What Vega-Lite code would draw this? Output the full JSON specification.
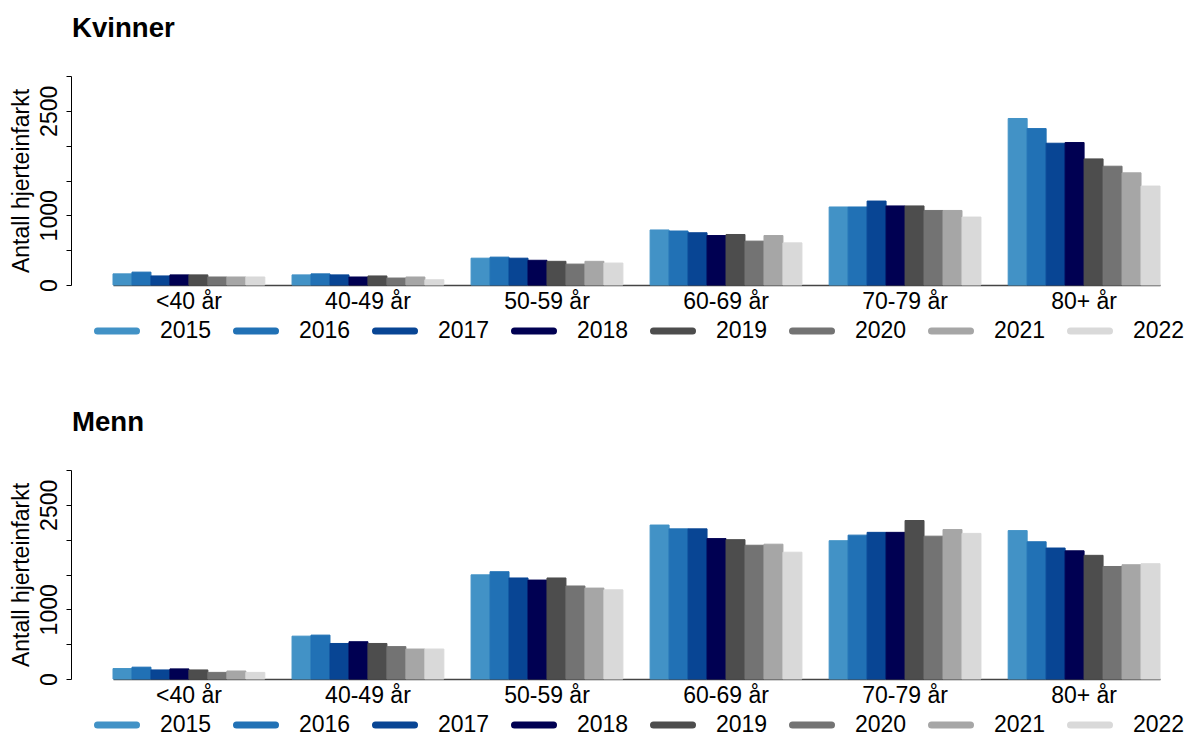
{
  "$schema": "https://vega.github.io/schema/vega-lite/v6.json",
  "padding": {"left": 10, "top": 14, "right": 0, "bottom": 0},
  "background": "white",
  "config": {
    "view": {"stroke": null},
    "font": "Liberation Sans",
    "title": {"anchor": "start", "frame": "group", "dx": -41, "fontSize": 27.6, "fontWeight": "bold", "offset": 33, "color": "black"},
    "axisX": {"title": null, "labelAngle": 0, "ticks": false, "labelPadding": 5, "labelFontSize": 23, "labelColor": "black", "domainColor": "#444", "domainWidth": 1.5, "grid": false},
    "axisY": {"values": [0, 500, 1000, 1500, 2000, 2500, 3000], "format": "d", "labelExpr": "datum.value == 0 || datum.value == 1000 || datum.value == 2500 ? datum.label : ''", "labelAngle": -90, "labelAlign": "center", "labelBaseline": "bottom", "labelPadding": 5, "labelFontSize": 23, "labelColor": "black", "labelOverlap": false, "labelFlush": false, "labelBound": false, "tickSize": 5, "tickColor": "black", "domainColor": "black", "offset": 42, "grid": false, "titleFontSize": 23, "titleFontWeight": "normal", "titleColor": "black", "titlePadding": 5},
    "legend": {"orient": "none", "legendX": -19, "legendY": 232, "direction": "horizontal", "columns": 8, "symbolType": "stroke", "symbolSize": 1521, "symbolStrokeWidth": 7, "labelFontSize": 23, "labelColor": "black", "labelOffset": 20, "columnPadding": 10, "title": null}
  },
  "datasets": {
    "d": [
      {"kjonn": "Kvinner", "alder": "<40 år", "aar": "2015", "antall": 160},
      {"kjonn": "Kvinner", "alder": "<40 år", "aar": "2016", "antall": 185},
      {"kjonn": "Kvinner", "alder": "<40 år", "aar": "2017", "antall": 130},
      {"kjonn": "Kvinner", "alder": "<40 år", "aar": "2018", "antall": 145},
      {"kjonn": "Kvinner", "alder": "<40 år", "aar": "2019", "antall": 145},
      {"kjonn": "Kvinner", "alder": "<40 år", "aar": "2020", "antall": 115},
      {"kjonn": "Kvinner", "alder": "<40 år", "aar": "2021", "antall": 115},
      {"kjonn": "Kvinner", "alder": "<40 år", "aar": "2022", "antall": 115},
      {"kjonn": "Kvinner", "alder": "40-49 år", "aar": "2015", "antall": 145},
      {"kjonn": "Kvinner", "alder": "40-49 år", "aar": "2016", "antall": 160},
      {"kjonn": "Kvinner", "alder": "40-49 år", "aar": "2017", "antall": 145},
      {"kjonn": "Kvinner", "alder": "40-49 år", "aar": "2018", "antall": 115},
      {"kjonn": "Kvinner", "alder": "40-49 år", "aar": "2019", "antall": 130},
      {"kjonn": "Kvinner", "alder": "40-49 år", "aar": "2020", "antall": 100},
      {"kjonn": "Kvinner", "alder": "40-49 år", "aar": "2021", "antall": 115},
      {"kjonn": "Kvinner", "alder": "40-49 år", "aar": "2022", "antall": 75},
      {"kjonn": "Kvinner", "alder": "50-59 år", "aar": "2015", "antall": 385},
      {"kjonn": "Kvinner", "alder": "50-59 år", "aar": "2016", "antall": 400},
      {"kjonn": "Kvinner", "alder": "50-59 år", "aar": "2017", "antall": 385},
      {"kjonn": "Kvinner", "alder": "50-59 år", "aar": "2018", "antall": 355},
      {"kjonn": "Kvinner", "alder": "50-59 år", "aar": "2019", "antall": 340},
      {"kjonn": "Kvinner", "alder": "50-59 år", "aar": "2020", "antall": 300},
      {"kjonn": "Kvinner", "alder": "50-59 år", "aar": "2021", "antall": 340},
      {"kjonn": "Kvinner", "alder": "50-59 år", "aar": "2022", "antall": 315},
      {"kjonn": "Kvinner", "alder": "60-69 år", "aar": "2015", "antall": 790},
      {"kjonn": "Kvinner", "alder": "60-69 år", "aar": "2016", "antall": 775},
      {"kjonn": "Kvinner", "alder": "60-69 år", "aar": "2017", "antall": 750},
      {"kjonn": "Kvinner", "alder": "60-69 år", "aar": "2018", "antall": 710},
      {"kjonn": "Kvinner", "alder": "60-69 år", "aar": "2019", "antall": 725},
      {"kjonn": "Kvinner", "alder": "60-69 år", "aar": "2020", "antall": 630},
      {"kjonn": "Kvinner", "alder": "60-69 år", "aar": "2021", "antall": 710},
      {"kjonn": "Kvinner", "alder": "60-69 år", "aar": "2022", "antall": 605},
      {"kjonn": "Kvinner", "alder": "70-79 år", "aar": "2015", "antall": 1120},
      {"kjonn": "Kvinner", "alder": "70-79 år", "aar": "2016", "antall": 1120},
      {"kjonn": "Kvinner", "alder": "70-79 år", "aar": "2017", "antall": 1205},
      {"kjonn": "Kvinner", "alder": "70-79 år", "aar": "2018", "antall": 1135},
      {"kjonn": "Kvinner", "alder": "70-79 år", "aar": "2019", "antall": 1135},
      {"kjonn": "Kvinner", "alder": "70-79 år", "aar": "2020", "antall": 1070},
      {"kjonn": "Kvinner", "alder": "70-79 år", "aar": "2021", "antall": 1070},
      {"kjonn": "Kvinner", "alder": "70-79 år", "aar": "2022", "antall": 975},
      {"kjonn": "Kvinner", "alder": "80+ år", "aar": "2015", "antall": 2390},
      {"kjonn": "Kvinner", "alder": "80+ år", "aar": "2016", "antall": 2245},
      {"kjonn": "Kvinner", "alder": "80+ år", "aar": "2017", "antall": 2035},
      {"kjonn": "Kvinner", "alder": "80+ år", "aar": "2018", "antall": 2045},
      {"kjonn": "Kvinner", "alder": "80+ år", "aar": "2019", "antall": 1810},
      {"kjonn": "Kvinner", "alder": "80+ år", "aar": "2020", "antall": 1705},
      {"kjonn": "Kvinner", "alder": "80+ år", "aar": "2021", "antall": 1610},
      {"kjonn": "Kvinner", "alder": "80+ år", "aar": "2022", "antall": 1420},
      {"kjonn": "Menn", "alder": "<40 år", "aar": "2015", "antall": 150},
      {"kjonn": "Menn", "alder": "<40 år", "aar": "2016", "antall": 170},
      {"kjonn": "Menn", "alder": "<40 år", "aar": "2017", "antall": 130},
      {"kjonn": "Menn", "alder": "<40 år", "aar": "2018", "antall": 145},
      {"kjonn": "Menn", "alder": "<40 år", "aar": "2019", "antall": 130},
      {"kjonn": "Menn", "alder": "<40 år", "aar": "2020", "antall": 95},
      {"kjonn": "Menn", "alder": "<40 år", "aar": "2021", "antall": 115},
      {"kjonn": "Menn", "alder": "<40 år", "aar": "2022", "antall": 95},
      {"kjonn": "Menn", "alder": "40-49 år", "aar": "2015", "antall": 615},
      {"kjonn": "Menn", "alder": "40-49 år", "aar": "2016", "antall": 630},
      {"kjonn": "Menn", "alder": "40-49 år", "aar": "2017", "antall": 510},
      {"kjonn": "Menn", "alder": "40-49 år", "aar": "2018", "antall": 535},
      {"kjonn": "Menn", "alder": "40-49 år", "aar": "2019", "antall": 510},
      {"kjonn": "Menn", "alder": "40-49 år", "aar": "2020", "antall": 465},
      {"kjonn": "Menn", "alder": "40-49 år", "aar": "2021", "antall": 430},
      {"kjonn": "Menn", "alder": "40-49 år", "aar": "2022", "antall": 430},
      {"kjonn": "Menn", "alder": "50-59 år", "aar": "2015", "antall": 1495},
      {"kjonn": "Menn", "alder": "50-59 år", "aar": "2016", "antall": 1540},
      {"kjonn": "Menn", "alder": "50-59 år", "aar": "2017", "antall": 1450},
      {"kjonn": "Menn", "alder": "50-59 år", "aar": "2018", "antall": 1420},
      {"kjonn": "Menn", "alder": "50-59 år", "aar": "2019", "antall": 1450},
      {"kjonn": "Menn", "alder": "50-59 år", "aar": "2020", "antall": 1335},
      {"kjonn": "Menn", "alder": "50-59 år", "aar": "2021", "antall": 1305},
      {"kjonn": "Menn", "alder": "50-59 år", "aar": "2022", "antall": 1280},
      {"kjonn": "Menn", "alder": "60-69 år", "aar": "2015", "antall": 2210},
      {"kjonn": "Menn", "alder": "60-69 år", "aar": "2016", "antall": 2155},
      {"kjonn": "Menn", "alder": "60-69 år", "aar": "2017", "antall": 2155},
      {"kjonn": "Menn", "alder": "60-69 år", "aar": "2018", "antall": 2015},
      {"kjonn": "Menn", "alder": "60-69 år", "aar": "2019", "antall": 2000},
      {"kjonn": "Menn", "alder": "60-69 år", "aar": "2020", "antall": 1920},
      {"kjonn": "Menn", "alder": "60-69 år", "aar": "2021", "antall": 1935},
      {"kjonn": "Menn", "alder": "60-69 år", "aar": "2022", "antall": 1820},
      {"kjonn": "Menn", "alder": "70-79 år", "aar": "2015", "antall": 1985},
      {"kjonn": "Menn", "alder": "70-79 år", "aar": "2016", "antall": 2065},
      {"kjonn": "Menn", "alder": "70-79 år", "aar": "2017", "antall": 2105},
      {"kjonn": "Menn", "alder": "70-79 år", "aar": "2018", "antall": 2105},
      {"kjonn": "Menn", "alder": "70-79 år", "aar": "2019", "antall": 2275},
      {"kjonn": "Menn", "alder": "70-79 år", "aar": "2020", "antall": 2050},
      {"kjonn": "Menn", "alder": "70-79 år", "aar": "2021", "antall": 2145},
      {"kjonn": "Menn", "alder": "70-79 år", "aar": "2022", "antall": 2090},
      {"kjonn": "Menn", "alder": "80+ år", "aar": "2015", "antall": 2130},
      {"kjonn": "Menn", "alder": "80+ år", "aar": "2016", "antall": 1970},
      {"kjonn": "Menn", "alder": "80+ år", "aar": "2017", "antall": 1880},
      {"kjonn": "Menn", "alder": "80+ år", "aar": "2018", "antall": 1840},
      {"kjonn": "Menn", "alder": "80+ år", "aar": "2019", "antall": 1775},
      {"kjonn": "Menn", "alder": "80+ år", "aar": "2020", "antall": 1615},
      {"kjonn": "Menn", "alder": "80+ år", "aar": "2021", "antall": 1640},
      {"kjonn": "Menn", "alder": "80+ år", "aar": "2022", "antall": 1655}
    ]
  },
  "spacing": 63,
  "resolve": {"scale": {"fill": "independent", "stroke": "independent"}, "legend": {"fill": "independent", "stroke": "independent"}},
  "vconcat": [
    {
      "title": "Kvinner",
      "width": 1047,
      "height": 209,
      "data": {"name": "d"},
      "transform": [{"filter": "datum.kjonn == 'Kvinner'"}],
      "mark": {"type": "bar"},
      "encoding": {
        "x": {"field": "alder", "type": "nominal", "sort": ["<40 år", "40-49 år", "50-59 år", "60-69 år", "70-79 år", "80+ år"], "scale": {"paddingInner": 0.152, "paddingOuter": 0}},
        "xOffset": {"field": "aar", "type": "nominal", "scale": {"paddingInner": 0, "paddingOuter": 0}},
        "y": {"field": "antall", "type": "quantitative", "title": "Antall hjerteinfarkt", "scale": {"domain": [0, 3000], "nice": false}},
        "fill": {"field": "aar", "type": "nominal", "legend": {"encode": {"symbols": {"update": {"strokeCap": {"value": "round"}}}}}, "scale": {"domain": ["2015", "2016", "2017", "2018", "2019", "2020", "2021", "2022"], "range": ["#4292C6", "#2171B5", "#084594", "#000052", "#4D4D4D", "#737373", "#A6A6A6", "#D9D9D9"]}},
        "stroke": {"field": "aar", "type": "nominal", "legend": {"encode": {"symbols": {"update": {"strokeCap": {"value": "round"}}}}}, "scale": {"domain": ["2015", "2016", "2017", "2018", "2019", "2020", "2021", "2022"], "range": ["#4292C6", "#2171B5", "#084594", "#000052", "#4D4D4D", "#737373", "#A6A6A6", "#D9D9D9"]}}
      }
    },
    {
      "title": "Menn",
      "width": 1047,
      "height": 209,
      "data": {"name": "d"},
      "transform": [{"filter": "datum.kjonn == 'Menn'"}],
      "mark": {"type": "bar"},
      "encoding": {
        "x": {"field": "alder", "type": "nominal", "sort": ["<40 år", "40-49 år", "50-59 år", "60-69 år", "70-79 år", "80+ år"], "scale": {"paddingInner": 0.152, "paddingOuter": 0}},
        "xOffset": {"field": "aar", "type": "nominal", "scale": {"paddingInner": 0, "paddingOuter": 0}},
        "y": {"field": "antall", "type": "quantitative", "title": "Antall hjerteinfarkt", "scale": {"domain": [0, 3000], "nice": false}},
        "fill": {"field": "aar", "type": "nominal", "legend": {"encode": {"symbols": {"update": {"strokeCap": {"value": "round"}}}}}, "scale": {"domain": ["2015", "2016", "2017", "2018", "2019", "2020", "2021", "2022"], "range": ["#4292C6", "#2171B5", "#084594", "#000052", "#4D4D4D", "#737373", "#A6A6A6", "#D9D9D9"]}},
        "stroke": {"field": "aar", "type": "nominal", "legend": {"encode": {"symbols": {"update": {"strokeCap": {"value": "round"}}}}}, "scale": {"domain": ["2015", "2016", "2017", "2018", "2019", "2020", "2021", "2022"], "range": ["#4292C6", "#2171B5", "#084594", "#000052", "#4D4D4D", "#737373", "#A6A6A6", "#D9D9D9"]}}
      }
    }
  ]
}
